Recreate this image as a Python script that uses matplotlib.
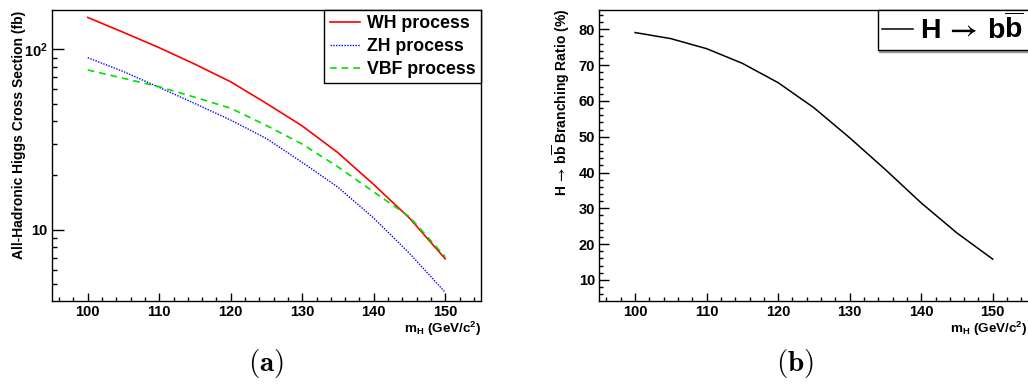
import numpy as np
import matplotlib
matplotlib.use('Agg')
import matplotlib.pyplot as plt
from matplotlib.ticker import FixedLocator, MultipleLocator, NullFormatter, FixedFormatter

plt.rcParams['font.family'] = ['Liberation Sans', 'DejaVu Sans']
plt.rcParams['font.weight'] = 'bold'
plt.rcParams['mathtext.fontset'] = 'custom'
plt.rcParams['mathtext.rm'] = 'Liberation Sans:bold'
plt.rcParams['mathtext.it'] = 'Liberation Sans:bold'
plt.rcParams['mathtext.bf'] = 'Liberation Sans:bold'
plt.rcParams['mathtext.sf'] = 'STIXGeneral'

# Higgs mass points (GeV/c^2)
m_h = [100, 105, 110, 115, 120, 125, 130, 135, 140, 145, 150]

# all-hadronic cross sections (fb)
wh_xsec = [150, 124, 102, 82.6, 66, 50.1, 37.6, 26.7, 17.8, 11.6, 6.9]
zh_xsec = [89.8, 75.2, 61.5, 50, 40.5, 32, 23.6, 17.2, 11.6, 7.4, 4.5]
vbf_xsec = [76.8, 69, 62, 54.2, 47.1, 37.8, 29.8, 22.3, 16.2, 11.8, 7.08]

# H -> bb branching ratio (%)
br_bb = [79.1, 77.4, 74.6, 70.5, 65.1, 58.1, 49.7, 40.8, 31.5, 23.1, 15.8]

hbb = r'$\mathrm{H}\,\mathsf{\rightarrow}\,\mathrm{b}\overline{\mathrm{b}}$'

W, H = 1028, 387
fig = plt.figure(figsize=(W / 100, H / 100), dpi=100)


def frame(ax):
    for s in ax.spines.values():
        s.set_linewidth(1.0)
    ax.tick_params(which='both', direction='in', top=False, right=False,
                   labelsize=10.5, width=1.0)
    ax.tick_params(which='major', length=5.8, pad=3)
    ax.tick_params(which='minor', length=2.9)
    ax.set_xlim(95, 155)
    ax.xaxis.set_major_locator(MultipleLocator(10))
    ax.xaxis.set_minor_locator(MultipleLocator(2))
    for lab in ax.get_xticklabels() + ax.get_yticklabels():
        lab.set_fontweight('bold')
    ax.set_xlabel(r'm$_{H}$ (GeV/c$^{2}$)', fontsize=9.7, fontweight='bold')
    ax.xaxis.label.set_ha('right')


# ---- (a) cross sections
ax1 = fig.add_axes([52 / W, 1 - 301 / H, 429 / W, 291 / H])
ax1.plot(m_h, wh_xsec, color='#ff0000', lw=1.2, label='WH process')
ax1.plot(m_h, zh_xsec, color='#0000ff', lw=1.0, ls=(0, (1, 1)), label='ZH process')
ax1.plot(m_h, vbf_xsec, color='#00e000', lw=1.2, ls=(0, (4, 3)), label='VBF process')
ax1.set_yscale('log')
ax1.set_ylim(4.03, 165)
frame(ax1)
ax1.yaxis.set_major_locator(FixedLocator([10, 100]))
ax1.yaxis.set_major_formatter(FixedFormatter(['10', r'10$^{2}$']))
ax1.yaxis.set_minor_locator(FixedLocator([5, 6, 7, 8, 9, 20, 30, 40, 50, 60, 70, 80, 90]))
ax1.yaxis.set_minor_formatter(NullFormatter())
ax1.tick_params(axis='y', which='minor', length=3.6)
ax1.tick_params(axis='y', which='major', length=8.5)
ax1.set_ylabel('All-Hadronic Higgs Cross Section (fb)', fontsize=10, fontweight='bold')
ax1.yaxis.set_label_coords(-26 / 429, 0.57)
ax1.xaxis.set_label_coords(1.0, -0.065)
leg1 = ax1.legend(loc='upper right', bbox_to_anchor=(1.0, 1.0), borderaxespad=0,
                  fancybox=False, edgecolor='black', framealpha=1,
                  prop={'size': 12.8, 'weight': 'bold'}, handlelength=1.7,
                  handletextpad=0.4, labelspacing=0.33, borderpad=0.3)
leg1.get_frame().set_linewidth(1.0)

# ---- (b) branching ratio
ax2 = fig.add_axes([599.3 / W, 1 - 301 / H, 429.2 / W, 291 / H])
ax2.plot(m_h, br_bb, color='black', lw=1.1, label=hbb)
ax2.set_ylim(4.1, 85.4)
frame(ax2)
ax2.yaxis.set_major_locator(MultipleLocator(10))
ax2.yaxis.set_minor_locator(MultipleLocator(2))
ax2.tick_params(axis='y', which='major', length=7)
ax2.tick_params(axis='y', which='minor', length=3)
ax2.set_ylabel(hbb + ' Branching Ratio (%)', fontsize=10, fontweight='bold')
ax2.yaxis.set_label_coords(-27 / 429, 0.682)
ax2.xaxis.set_label_coords(0.997, -0.065)
leg2 = ax2.legend(loc='upper right', bbox_to_anchor=(1.0, 1.0), borderaxespad=0,
                  fancybox=False, edgecolor='black', framealpha=1,
                  prop={'size': 20.5, 'weight': 'bold'}, handlelength=1.1,
                  handletextpad=0.25, borderpad=0.15,
                  shadow={'ox': 1, 'oy': -1.5, 'color': '0.6', 'alpha': 1})
leg2.get_frame().set_linewidth(1.0)

fig.text(266 / W, 1 - 364 / H, r'$\mathbf{(a)}$', math_fontfamily='cm',
         fontsize=21, ha='center', va='center')
fig.text(795 / W, 1 - 364 / H, r'$\mathbf{(b)}$', math_fontfamily='cm',
         fontsize=21, ha='center', va='center')

fig.savefig('out.png', dpi=100)
